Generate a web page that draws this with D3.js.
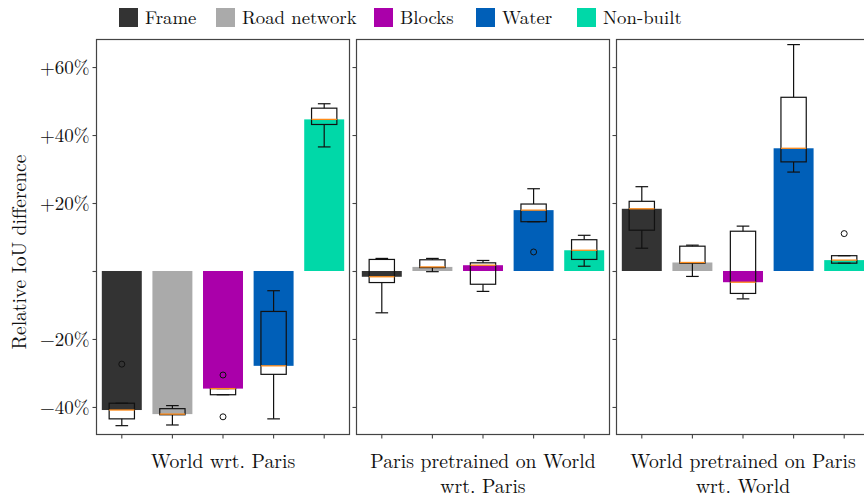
<!DOCTYPE html>
<html>
<head>
<meta charset="utf-8">
<script src="https://cdn.jsdelivr.net/npm/d3@7"></script>
<style>
  body { margin: 0; background: #fff; }
  svg { display: block; }
</style>
</head>
<body>
<svg id="chart" width="864" height="497"></svg>
<script>
// Land-use classes and the three comparisons (one facet each)
const categories = ["Frame", "Road network", "Blocks", "Water", "Non-built"];
const panels = [
  ["World wrt. Paris"],
  ["Paris pretrained on World", "wrt. Paris"],
  ["World pretrained on Paris", "wrt. World"]
];

// Relative IoU difference (%) per facet, per class
const medians = [
  [-40.9, -42.1, -34.6, -27.9, 44.6],
  [-1.7, 1.2, 1.7, 17.9, 6.1],
  [18.3, 2.5, -3.3, 36.1, 3.2]
];
const q1 = [
  [-43.5, -42.3, -36.4, -30.4, 43.1],
  [-3.4, 1.0, -3.9, 14.5, 3.4],
  [12.0, 2.3, -6.6, 32.1, 2.3]
];
const q3 = [
  [-38.9, -40.5, -34.6, -11.9, 47.9],
  [3.4, 3.3, 2.4, 19.7, 9.2],
  [20.5, 7.3, 11.7, 51.1, 4.5]
];
const whiskerLow = [
  [-45.5, -45.3, -36.4, -43.5, 36.5],
  [-12.3, -0.2, -6.0, 14.5, 1.4],
  [6.7, -1.6, -8.2, 29.1, 2.3]
];
const whiskerHigh = [
  [-38.9, -39.6, -34.6, -5.8, 49.2],
  [3.7, 3.7, 3.1, 24.2, 10.5],
  [24.8, 7.6, 13.2, 66.6, 4.5]
];
const outliers = [
  [[-27.4], [], [-30.6, -42.9], [], []],
  [[], [], [], [5.6], []],
  [[], [], [], [], [11.0]]
];
const yTicks = [-40, -20, 0, 20, 40, 60];

const colors = ["#333333", "#aaaaaa", "#aa00aa", "#005fb8", "#00d8a8"];
const serif = '"Latin Modern Roman", "Liberation Serif", serif';
// left edge of each legend entry's swatch
const legendX = [119, 216, 374, 476, 577];

const svg = d3.select("#chart");
const plotTop = 39.5, plotBottom = 434.5;

const y = d3.scaleLinear().domain([-48.1, 68.1]).range([plotBottom, plotTop]);

const facet = d3.scaleBand()
  .domain(d3.range(panels.length))
  .range([96.5, 869.5])
  .paddingInner(7 / 260)
  .paddingOuter(0);

const x = d3.scaleBand()
  .domain(categories)
  .range([0, facet.bandwidth()])
  .padding(0);

const barW = x.bandwidth() * 0.79;
const boxW = x.bandwidth() * 0.5;
const capW = boxW * 0.5;

const fmt = d => d === 0 ? "" : (d > 0 ? "+" : "\u2212") + Math.abs(d) + "%";

panels.forEach((label, p) => {
  const g = svg.append("g").attr("transform", `translate(${facet(p)},0)`);
  const w = facet.bandwidth();

  // bars at the median value
  g.selectAll("rect.bar").data(categories).join("rect")
    .attr("class", "bar")
    .attr("x", c => x(c) + (x.bandwidth() - barW) / 2)
    .attr("width", barW)
    .attr("y", (c, i) => Math.min(y(0), y(medians[p][i])))
    .attr("height", (c, i) => Math.abs(y(0) - y(medians[p][i])))
    .attr("fill", (c, i) => colors[i]);

  // box plots on top of the bars
  categories.forEach((c, i) => {
    const cx = x(c) + x.bandwidth() / 2;
    const b = g.append("g").attr("stroke", "#111").attr("stroke-width", 1.2).attr("fill", "none");
    // whiskers
    b.append("line").attr("x1", cx).attr("x2", cx)
      .attr("y1", y(q3[p][i])).attr("y2", y(whiskerHigh[p][i]));
    b.append("line").attr("x1", cx).attr("x2", cx)
      .attr("y1", y(q1[p][i])).attr("y2", y(whiskerLow[p][i]));
    // caps
    [whiskerLow[p][i], whiskerHigh[p][i]].forEach(v => {
      b.append("line").attr("x1", cx - capW / 2).attr("x2", cx + capW / 2)
        .attr("y1", y(v)).attr("y2", y(v));
    });
    // box
    b.append("rect")
      .attr("x", cx - boxW / 2).attr("width", boxW)
      .attr("y", y(q3[p][i])).attr("height", Math.max(0.01, y(q1[p][i]) - y(q3[p][i])));
    // median
    b.append("line").attr("stroke", "#ff8c1a").attr("stroke-width", 1.3)
      .attr("x1", cx - boxW / 2).attr("x2", cx + boxW / 2)
      .attr("y1", y(medians[p][i])).attr("y2", y(medians[p][i]));
    // outliers
    outliers[p][i].forEach(v => {
      b.append("circle").attr("cx", cx).attr("cy", y(v)).attr("r", 3).attr("stroke-width", 1);
    });
  });

  // panel frame
  g.append("rect").attr("x", 0).attr("y", plotTop).attr("width", w).attr("height", plotBottom - plotTop)
    .attr("fill", "none").attr("stroke", "#444").attr("stroke-width", 1.2);

  // y ticks (labels only on the first facet)
  const yAxis = g.append("g")
    .call(d3.axisLeft(y).tickValues(yTicks).tickSize(4).tickPadding(3)
      .tickFormat(p === 0 ? fmt : () => ""));
  yAxis.select(".domain").remove();
  yAxis.selectAll("line").attr("stroke", "#444").attr("stroke-width", 1.1);
  yAxis.selectAll("text")
    .style("font-family", serif).style("font-size", "19px").attr("fill", "#111");

  // x ticks
  const xAxis = g.append("g").attr("transform", `translate(0,${plotBottom})`)
    .call(d3.axisBottom(x).tickSize(4).tickFormat(() => ""));
  xAxis.select(".domain").remove();
  xAxis.selectAll("line").attr("stroke", "#444").attr("stroke-width", 1.1);

  // facet label
  label.forEach((line, k) => {
    g.append("text")
      .attr("x", w / 2).attr("y", 468 + k * 24.5)
      .attr("text-anchor", "middle")
      .style("font-family", serif)
      .style("font-size", "19.7px")
      .attr("fill", "#111")
      .text(line);
  });
});

// y-axis title
svg.append("text")
  .attr("transform", "translate(26,252) rotate(-90)")
  .attr("text-anchor", "middle")
  .style("font-family", serif)
  .style("font-size", "19.5px")
  .attr("fill", "#111")
  .text("Relative IoU difference");

// legend
const legend = svg.append("g");
categories.forEach((c, i) => {
  legend.append("rect").attr("x", legendX[i]).attr("y", 8).attr("width", 19).attr("height", 19)
    .attr("fill", colors[i]);
  legend.append("text").attr("x", legendX[i] + 26).attr("y", 24)
    .style("font-family", serif).style("font-size", "18.8px").attr("fill", "#111")
    .text(c);
});
</script>
</body>
</html>
